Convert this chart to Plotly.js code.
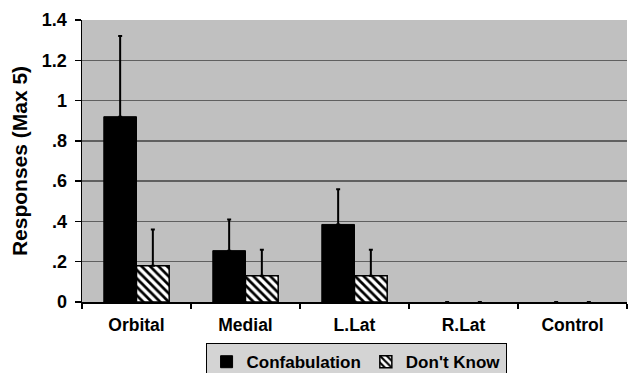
<!DOCTYPE html>
<html>
<head>
<meta charset="utf-8">
<script src="https://cdn.plot.ly/plotly-3.0.1.min.js"></script>
<style>html,body{margin:0;padding:0;background:#fff;}#chart{width:628px;height:373px;}</style>
</head>
<body>
<div id="chart"></div>
<script>
var categories = ["Orbital", "Medial", "L.Lat", "R.Lat", "Control"];
var confabulation = [0.92, 0.255, 0.385, 0, 0];
var confabulationErr = [0.40, 0.155, 0.175, 0, 0];
var dontKnow = [0.18, 0.13, 0.13, 0, 0];
var dontKnowErr = [0.18, 0.13, 0.13, 0, 0];
var tickVals = [0, 0.2, 0.4, 0.6, 0.8, 1, 1.2, 1.4];
var tickLabels = ["0", ".2", ".4", ".6", ".8", "1", "1.2", "1.4"];

var zeros = categories.map(function(){return 0;});
function outline(vals, w){ return vals.map(function(v){ return v > 0 ? w : 0; }); }

var traces = [
  {
    type: "bar", name: "Confabulation", x: categories, y: confabulation,
    marker: {color: "#000000", line: {color: "#000000", width: outline(confabulation, 1)}},
    error_y: {type: "data", symmetric: false, array: confabulationErr, arrayminus: zeros,
              color: "#000000", thickness: 2, width: 2}
  },
  {
    type: "bar", name: "Don't Know", x: categories, y: dontKnow,
    marker: {color: "#ffffff", line: {color: "#000000", width: outline(dontKnow, 1.5)},
             pattern: {shape: "\\", fgcolor: "#000000", bgcolor: "#ffffff", size: 6, solidity: 0.45}},
    error_y: {type: "data", symmetric: false, array: dontKnowErr, arrayminus: zeros,
              color: "#000000", thickness: 2, width: 2}
  }
];

var layout = {
  width: 628, height: 373,
  margin: {l: 82, r: 1, t: 20, b: 71},
  paper_bgcolor: "#ffffff",
  plot_bgcolor: "#c0c0c0",
  barmode: "group",
  bargap: 0.4,
  bargroupgap: 0,
  font: {family: "Arial, Liberation Sans, sans-serif", color: "#000000"},
  showlegend: true,
  legend: {
    orientation: "h", x: 0.567, xref: "container", xanchor: "center",
    y: 0.08, yref: "container", yanchor: "top",
    bgcolor: "#d4d4d4", bordercolor: "#000000", borderwidth: 1,
    font: {size: 17, family: "Arial, Liberation Sans, sans-serif", weight: "bold"},
    itemwidth: 30, traceorder: "normal"
  },
  xaxis: {
    type: "category",
    showline: true, linecolor: "#000000", linewidth: 1.5,
    ticks: "outside", tickson: "boundaries", ticklen: 5, tickcolor: "#000000", tickwidth: 1.5,
    tickfont: {size: 17.5, weight: "bold"}, ticklabelstandoff: 6,
    showgrid: false, zeroline: false
  },
  yaxis: {
    range: [0, 1.4],
    tickvals: tickVals, ticktext: tickLabels,
    showline: true, linecolor: "#000000", linewidth: 1.5,
    ticks: "outside", ticklen: 6, tickcolor: "#000000", tickwidth: 1.5,
    tickfont: {size: 18, weight: "bold"}, ticklabelstandoff: 4,
    showgrid: true, gridcolor: "#606060", gridwidth: 1.3,
    zeroline: false,
    title: {text: "Responses (Max 5)", font: {size: 21, weight: "bold"}, standoff: 8}
  }
};

Plotly.newPlot("chart", traces, layout, {displayModeBar: false, staticPlot: true});
</script>
</body>
</html>
